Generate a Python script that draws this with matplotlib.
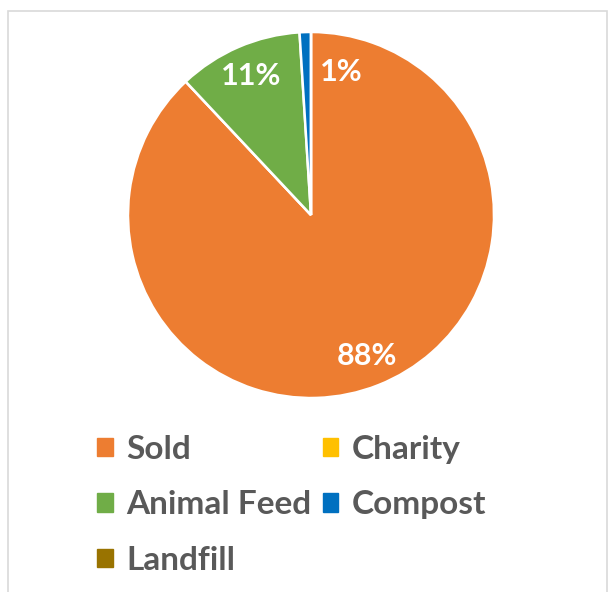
import matplotlib
matplotlib.use("Agg")
import matplotlib.pyplot as plt
from matplotlib.patches import Patch, Rectangle

categories = ["Sold", "Charity", "Animal Feed", "Compost", "Landfill"]
values = [88, 0, 11, 1, 0]
colors = ["#ED7D31", "#FFC000", "#70AD47", "#0070C0", "#997300"]

W, H = 608, 592
fig = plt.figure(figsize=(W / 100, H / 100), dpi=100)
fig.patch.set_facecolor("white")

# chart frame
fig.patches.append(Rectangle((8 / W, -0.01), (W - 8 - 1.5) / W, 1 - 11 / H + 0.01,
                             transform=fig.transFigure, fill=False,
                             edgecolor="#D9D9D9", linewidth=1.2))

cx, cy, r = 311, 215, 183
ax = fig.add_axes([(cx - r) / W, 1 - (cy + r) / H, 2 * r / W, 2 * r / H])


def fmt(p):
    return f"{p:.0f}%" if p >= 0.5 else ""


wedges, texts, autotexts = ax.pie(
    values, colors=colors, startangle=90, counterclock=False, radius=1,
    autopct=fmt, pctdistance=0.83,
    wedgeprops=dict(edgecolor="white", linewidth=1.8),
    textprops=dict(color="white", fontsize=22, family="Lato", weight="bold"),
)
ax.set_aspect("auto")
ax.set_xlim(-1, 1)
ax.set_ylim(-1, 1)
ax.axis("off")
# Excel nudges the small slice's label to the right
autotexts[3].set_position((0.165, 0.78))

order = [0, 2, 4, 1, 3]
handles = [Patch(facecolor=colors[i], edgecolor=colors[i]) for i in order]
labels = [categories[i] for i in order]
leg = fig.legend(handles, labels, ncol=2, loc="upper left",
                 bbox_to_anchor=(97 / W, 1 - 435 / H), frameon=False,
                 prop=dict(family="Lato", weight="bold", size=24),
                 handlelength=0.47, handleheight=0.47, handletextpad=0.4,
                 columnspacing=0.35, labelspacing=0.79, borderpad=0,
                 borderaxespad=0)
for t in leg.get_texts():
    t.set_color("#595959")

fig.savefig("out.png", dpi=100, facecolor="white")
